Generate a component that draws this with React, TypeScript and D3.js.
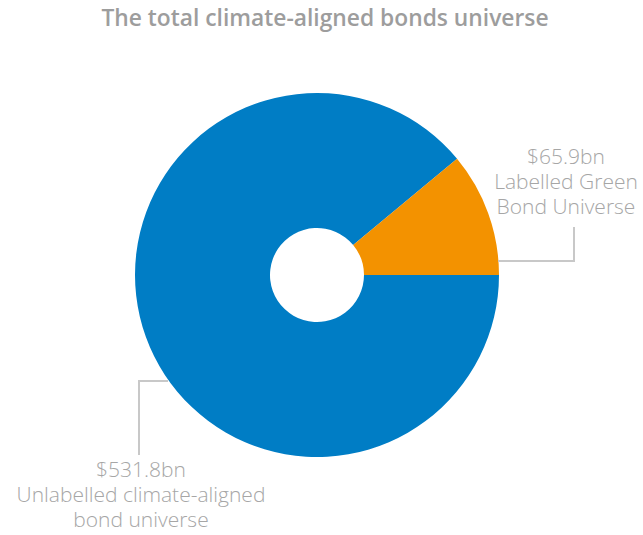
import React from "react";
import * as d3 from "d3";

const categories = ["Unlabelled climate-aligned bond universe", "Labelled Green Bond Universe"];
const values = [531.8, 65.9];
const valueLabels = ["$531.8bn", "$65.9bn"];
const colors = ["#007DC5", "#F39200"];

const W = 643, H = 535;
const cx = 317, cy = 275, R = 182, r0 = 47;

export default function App() {
  const data = categories.map((c, i) => ({ c, v: values[i], i }));
  const pie = d3.pie<any>().sort(null).value((d) => d.v)
    .startAngle(Math.PI / 2).endAngle(Math.PI / 2 + 2 * Math.PI);
  const arcs = pie(data);
  const arc = d3.arc<any>().innerRadius(r0).outerRadius(R);
  const lineColor = "#c8c8c8";
  const textColor = "#a6a6a6";
  const font = "'Open Sans', sans-serif";
  return (
    <svg width={W} height={H} style={{ position: "absolute", left: 0, top: 0 }}>
      <text x={325} y={26} textAnchor="middle" fontFamily={font} fontWeight={600} fontSize={22.8} fill="#9d9d9d">
        The total climate-aligned bonds universe
      </text>
      <g transform={`translate(${cx},${cy})`}>
        {arcs.map((a, i) => (
          <path key={i} d={arc(a) as string} fill={colors[i]} />
        ))}
      </g>
      <polyline points={`498,261 574,261 574,227`} fill="none" stroke={lineColor} strokeWidth={2} />
      <polyline points={`168,381 139,381 139,455`} fill="none" stroke={lineColor} strokeWidth={2} />
      <g fontFamily={font} fontWeight={300} fontSize={21} fill={textColor} textAnchor="middle">
        <text x={566} y={164}>{valueLabels[1]}</text>
        <text x={566} y={189}>Labelled Green</text>
        <text x={566} y={214}>Bond Universe</text>
        <text x={141} y={477}>{valueLabels[0]}</text>
        <text x={141} y={502}>Unlabelled climate-aligned</text>
        <text x={141} y={527}>bond universe</text>
      </g>
    </svg>
  );
}
